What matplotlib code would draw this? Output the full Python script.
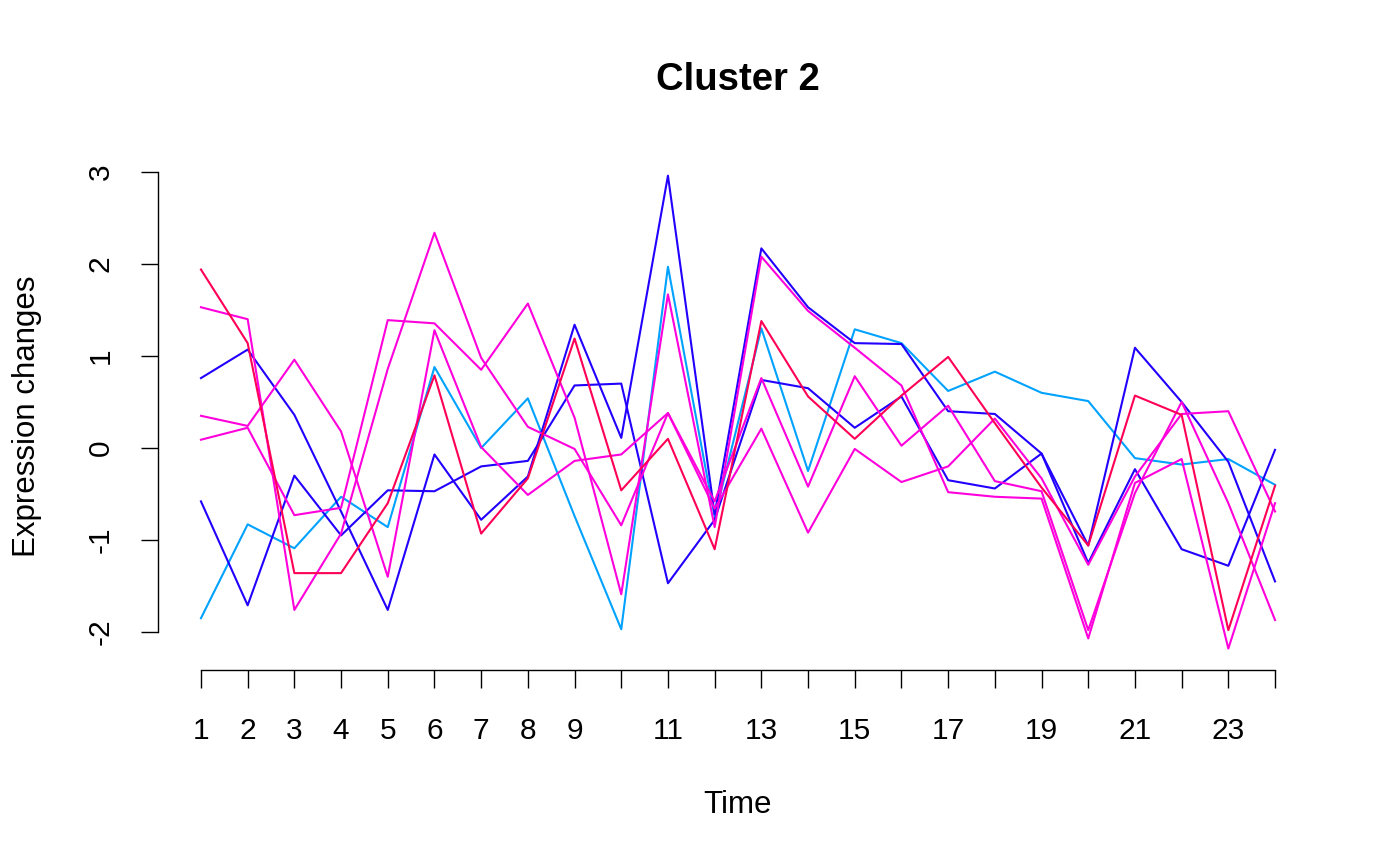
import numpy as np
import matplotlib
matplotlib.use("Agg")
import matplotlib.pyplot as plt

plt.rcParams['font.family'] = ['Liberation Sans', 'DejaVu Sans']

# time points
time = np.arange(1, 25)

# expression profiles of the cluster members
light_blue = [-1.85, -0.83, -1.09, -0.53, -0.86, 0.88, 0.00, 0.54, -0.74, -1.97, 1.97, -0.75,
              1.30, -0.25, 1.29, 1.14, 0.62, 0.83, 0.60, 0.51, -0.11, -0.18, -0.12, -0.40]
blue_1 = [0.76, 1.07, 0.36, -0.69, -1.76, -0.07, -0.78, -0.31, 1.34, 0.11, 2.96, -0.72,
          2.17, 1.53, 1.14, 1.13, 0.40, 0.37, -0.06, -1.06, 1.09, 0.50, -0.15, -1.45]
blue_2 = [-0.58, -1.71, -0.30, -0.95, -0.46, -0.47, -0.20, -0.14, 0.68, 0.70, -1.47, -0.78,
          0.74, 0.65, 0.22, 0.56, -0.35, -0.44, -0.06, -1.25, -0.23, -1.10, -1.28, -0.02]
magenta_1 = [1.53, 1.40, -1.76, -0.93, 0.86, 2.34, 0.98, 0.23, -0.01, -0.84, 0.38, -0.58,
             0.76, -0.42, 0.78, 0.025, 0.46, -0.36, -0.47, -1.98, -0.49, 0.50, -0.60, -1.87]
magenta_2 = [0.35, 0.24, 0.96, 0.18, -1.40, 1.28, 0.01, -0.51, -0.14, -0.07, 0.38, -0.66,
             0.21, -0.92, -0.01, -0.37, -0.20, 0.32, -0.33, -1.27, -0.31, 0.37, 0.40, -0.69]
magenta_3 = [0.09, 0.22, -0.73, -0.65, 1.39, 1.355, 0.85, 1.57, 0.33, -1.59, 1.67, -0.86,
             2.08, 1.49, 1.09, 0.68, -0.48, -0.53, -0.55, -2.07, -0.38, -0.12, -2.18, -0.60]
red = [1.94, 1.14, -1.36, -1.36, -0.60, 0.79, -0.93, -0.33, 1.19, -0.46, 0.10, -1.10,
       1.38, 0.56, 0.10, 0.57, 0.99, 0.27, -0.43, -1.06, 0.57, 0.36, -1.98, -0.41]

profiles = [light_blue, blue_1, blue_2, magenta_1, magenta_2, magenta_3, red]
colours = ['#00A2FF', '#2200FF', '#2200FF', '#FF00DD', '#FF00DD', '#FF00DD', '#FF0055']

xtick_labels = ['1', '2', '3', '4', '5', '6', '7', '8', '9', '', '11', '', '13', '', '15', '',
                '17', '', '19', '', '21', '', '23', '']
yticks = [-2, -1, 0, 1, 2, 3]

fig = plt.figure(figsize=(14, 8.66), dpi=100)
ax = fig.add_axes([158 / 1400, 1 - 670 / 866, (1318 - 158) / 1400, (670 - 156) / 866])

for prof, col in zip(profiles, colours):
    ax.plot(time, prof, color=col, lw=1.5)

ax.set_xlim(0.08, 24.92)
ax.set_ylim(-2.413, 3.174)

# R-style detached axes
for s in ['top', 'right']:
    ax.spines[s].set_visible(False)
ax.spines['bottom'].set_bounds(1, 24)
ax.spines['left'].set_bounds(-2, 3)
ax.spines['bottom'].set_linewidth(1.0)
ax.spines['left'].set_linewidth(1.0)

ax.set_xticks(time)
ax.set_xticklabels(xtick_labels)
ax.set_yticks(yticks)
ax.set_yticklabels([str(v) for v in yticks], rotation=90, va='center')
ax.tick_params(axis='x', length=13, width=1.0, pad=21, labelsize=21.5)
ax.tick_params(axis='y', length=12, width=1.0, pad=19, labelsize=21.5)

fig.text(738 / 1400, 1 - 80 / 866, 'Cluster 2', ha='center', va='center',
         fontsize=27.5, fontweight='bold')
fig.text(738 / 1400, 1 - 805 / 866, 'Time', ha='center', va='center', fontsize=22.5)
fig.text(27 / 1400, 1 - 416 / 866, 'Expression changes', ha='center', va='center',
         rotation=90, fontsize=22.5)

fig.savefig('out.png', dpi=100)
